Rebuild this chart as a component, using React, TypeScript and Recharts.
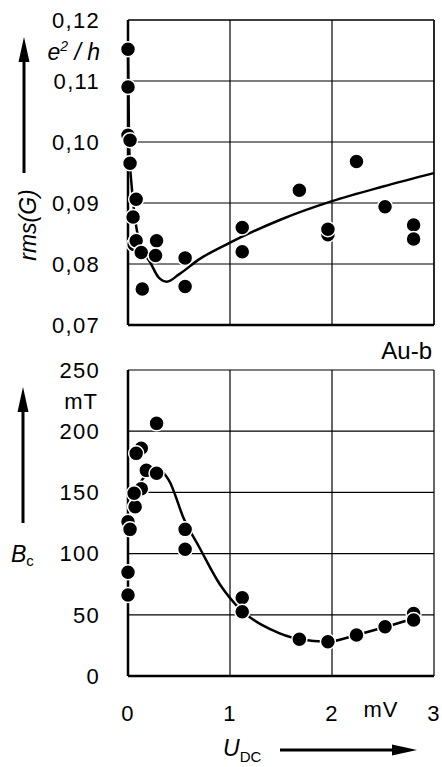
import React from 'react';
import { CartesianGrid, ComposedChart, Line, ReferenceLine, Scatter, XAxis, YAxis } from 'recharts';

// rms(G) panel, measured points (U_DC in mV, rms in e^2/h)
const rmsPointU = [0, 0, 0, 0.02, 0.02, 0.08, 0.05, 0.06, 0.08, 0.13, 0.28, 0.27, 0.14, 0.56, 0.56, 1.12, 1.12, 1.68, 1.96, 1.96, 2.24, 2.52, 2.8, 2.8];
const rmsPointV = [0.1152, 0.109, 0.1011, 0.1003, 0.0965, 0.0906, 0.0877, 0.0832, 0.0838, 0.0819, 0.0838, 0.0814, 0.0759, 0.081, 0.0763, 0.086, 0.082, 0.0921, 0.0848, 0.0857, 0.0968, 0.0894, 0.0864, 0.0841];
// fitted curve
const rmsCurveU = [0, 0.01, 0.04, 0.08, 0.15, 0.22, 0.3, 0.38, 0.5, 0.7, 1.0, 1.5, 2.0, 2.5, 3.0];
const rmsCurveV = [0.1158, 0.1, 0.092, 0.0862, 0.0822, 0.0802, 0.0778, 0.0771, 0.0783, 0.0808, 0.0835, 0.0873, 0.0903, 0.0927, 0.0949];
const rmsTicks = [0.07, 0.08, 0.09, 0.1, 0.11, 0.12];

// B_c panel (mT)
const bcPointU = [0, 0.13, 0.13, 0.18, 2.8, 0, 0, 0.02, 0.07, 0.06, 0.08, 0.28, 0.28, 0.56, 0.56, 1.12, 1.12, 1.68, 1.96, 2.24, 2.52, 2.8];
const bcPointV = [126, 153, 186, 168, 51, 84.7, 66.2, 119.8, 138.3, 149.3, 181.9, 206.4, 165.6, 119.8, 103.5, 64, 52.5, 30, 28, 33.5, 40.3, 45.7];
const bcCurveU = [0.12, 0.2, 0.3, 0.4, 0.55, 0.7, 0.9, 1.12, 1.4, 1.68, 1.96, 2.24, 2.52, 2.8];
const bcCurveV = [158, 166, 168, 160, 128, 105, 75, 53, 38, 30, 28, 33.5, 40, 47];
const bcTicks = [0, 50, 100, 150, 200, 250];

const uTicks = [0, 1, 2, 3];

const FONT = "'Liberation Sans', Arial, sans-serif";

const zip = (us: number[], vs: number[]) => us.map((u, i) => ({ u, v: vs[i] }));

const Dot = (props: any) => (
  <circle cx={props.cx} cy={props.cy} r={7.5} fill="#000" stroke="#fff" strokeWidth={1.5} />
);

// top panel keeps its x ticks (for the grid) but shows no labels
const NoTick = () => <g />;

const tickStyle = { fill: '#000', fontSize: 22, fontFamily: FONT, letterSpacing: 1.3 };

export default function App() {
  return (
    <div style={{ position: 'absolute', left: 0, top: 0, width: 442, height: 767, background: '#fff' }}>
      <div style={{ position: 'absolute', left: 0, top: 0 }}>
        <ComposedChart width={442} height={340} margin={{ top: 20, right: 8, bottom: 0, left: 0 }}>
          <CartesianGrid stroke="#000" strokeWidth={1.2} />
          <XAxis
            dataKey="u"
            type="number"
            domain={[0, 3]}
            ticks={uTicks}
            tick={NoTick}
            tickLine={false}
            height={15}
            axisLine={{ stroke: '#000', strokeWidth: 2.5 }}
          />
          <YAxis
            dataKey="v"
            type="number"
            domain={[0.07, 0.12]}
            ticks={rmsTicks}
            width={128}
            tickSize={0}
            tickMargin={28}
            tickLine={false}
            tick={tickStyle}
            tickFormatter={(v: number) => v.toFixed(2).replace('.', ',')}
            axisLine={{ stroke: '#000', strokeWidth: 2.5 }}
          />
          <ReferenceLine y={0.12} stroke="#000" strokeWidth={1.2} />
          <ReferenceLine x={3} stroke="#000" strokeWidth={1.2} />
          <Line
            data={zip(rmsCurveU, rmsCurveV)}
            dataKey="v"
            type="monotone"
            stroke="#000"
            strokeWidth={2.5}
            dot={false}
            activeDot={false}
            isAnimationActive={false}
          />
          <Scatter data={zip(rmsPointU, rmsPointV)} shape={Dot} isAnimationActive={false} />
        </ComposedChart>
      </div>
      <div style={{ position: 'absolute', left: 0, top: 340 }}>
        <ComposedChart width={442} height={427} margin={{ top: 30, right: 8, bottom: 0, left: 0 }}>
          <CartesianGrid stroke="#000" strokeWidth={1.2} />
          <XAxis
            dataKey="u"
            type="number"
            domain={[0, 3]}
            ticks={uTicks}
            tickSize={0}
            tickMargin={29}
            tickLine={false}
            tick={tickStyle}
            height={91}
            axisLine={{ stroke: '#000', strokeWidth: 2.5 }}
          />
          <YAxis
            dataKey="v"
            type="number"
            domain={[0, 250]}
            ticks={bcTicks}
            width={128}
            tickSize={0}
            tickMargin={28}
            tickLine={false}
            tick={tickStyle}
            axisLine={{ stroke: '#000', strokeWidth: 2.5 }}
          />
          <Line
            data={zip(bcCurveU, bcCurveV)}
            dataKey="v"
            type="monotone"
            stroke="#000"
            strokeWidth={2.5}
            dot={false}
            activeDot={false}
            isAnimationActive={false}
          />
          <Scatter data={zip(bcPointU, bcPointV)} shape={Dot} isAnimationActive={false} />
        </ComposedChart>
      </div>
      <svg
        width={442}
        height={767}
        style={{ position: 'absolute', left: 0, top: 0, pointerEvents: 'none' }}
        fontFamily={FONT}
      >
        {/* rms(G) axis title and arrow */}
        <line x1={24} y1={173} x2={24} y2={58} stroke="#000" strokeWidth={3} />
        <polygon points="24,37 18.5,62 29.5,62" fill="#000" />
        <text transform="translate(36,225) rotate(-90)" textAnchor="middle" fontSize={23} fontStyle="italic">
          rms(G)
        </text>
        <text x={100} y={60} textAnchor="end" fontSize={23} fontStyle="italic">
          e<tspan dy={-9} fontSize={14}>2</tspan>
          <tspan dy={9}> / h</tspan>
        </text>

        {/* B_c axis title and arrow */}
        <line x1={23} y1={523} x2={23} y2={408} stroke="#000" strokeWidth={3} />
        <polygon points="23,387 17.5,412 28.5,412" fill="#000" />
        <text x={11} y={562} fontSize={23}>
          <tspan fontStyle="italic">B</tspan>
          <tspan fontSize={15} dy={4}>c</tspan>
        </text>
        <text x={98} y={409} textAnchor="end" fontSize={22} letterSpacing={1}>
          mT
        </text>
        <text x={432} y={359} textAnchor="end" fontSize={24}>
          Au-b
        </text>

        {/* U_DC axis title and arrow */}
        <text x={381} y={717} textAnchor="middle" fontSize={22} letterSpacing={1}>
          mV
        </text>
        <text x={223} y={756} fontSize={23}>
          <tspan fontStyle="italic">U</tspan>
          <tspan fontSize={15} dy={6}>DC</tspan>
        </text>
        <line x1={280} y1={750} x2={396} y2={750} stroke="#000" strokeWidth={3} />
        <polygon points="417,750 392,744.5 392,755.5" fill="#000" />
      </svg>
    </div>
  );
}
